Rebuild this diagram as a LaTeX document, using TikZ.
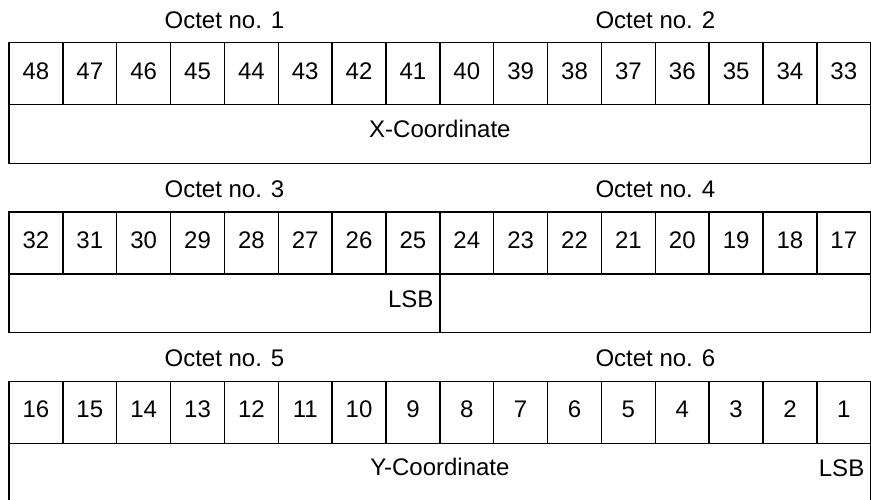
\documentclass[tikz,border=0pt]{standalone}
\usepackage{fontspec}
\setmainfont{Liberation Sans}
\usetikzlibrary{calc}
\begin{document}
\begin{tikzpicture}[x=1pt,y=-1pt,
  every node/.style={inner sep=0pt, outer sep=0pt, font=\fontsize{24}{28}\selectfont},
  cell/.style={draw, line width=1.5pt, minimum width=53.86pt, minimum height=62pt, text height=17.2pt, text depth=6.6pt},
  wide/.style={draw, line width=1.5pt, minimum height=58.6pt, text height=17.2pt, text depth=10.6pt},
  octet/.style={anchor=base},
  lsb/.style={anchor=base east}]
\useasboundingbox (0,0) rectangle (871,499);
\clip (0,0) rectangle (871,499);
\foreach \b/\oa/\ob in {0/1/2,1/3/4,2/5/6} {
  \pgfmathsetmacro{\T}{42.7+169.3*\b}
  \foreach \i in {0,...,15} {
    \pgfmathtruncatemacro{\n}{48-16*\b-\i}
    \node[cell] (c\b-\i) at ({9+53.86*(\i+0.5)}, {\T+31}) {\n};
  }
  \node[octet] (o\oa) at ({9+53.86*4}, {\T-14.4}) {Octet no. \oa};
  \node[octet] (o\ob) at ({9+53.86*12}, {\T-14.4}) {Octet no. \ob};
}
% block 1 lower row
\node[wide, minimum width=861.76pt] (xr) at (439.88, 134) {X-Coordinate};
% block 2 lower row
\node[wide, minimum width=430.88pt] (r2a) at (224.44, 303.3) {};
\node[wide, minimum width=430.88pt] (r2b) at (655.32, 303.3) {};
\node[lsb] (lsb1) at ($(r2a.north east)+(-6.5,33.4)$) {LSB};
% block 3 lower row
\node[wide, minimum width=861.76pt] (yr) at (439.88, 472.6) {Y-Coordinate};
\node[lsb] (lsb2) at ($(yr.north east)+(-6.5,33.4)$) {LSB};
\end{tikzpicture}
\end{document}
